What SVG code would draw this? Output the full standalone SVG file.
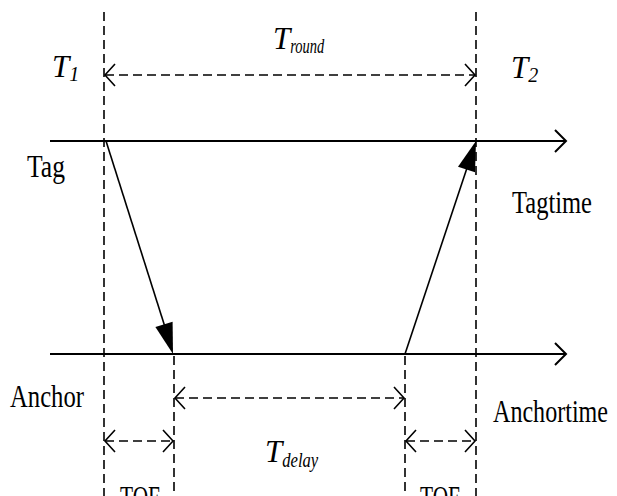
<svg xmlns="http://www.w3.org/2000/svg" width="617" height="496" viewBox="0 0 617 496">
<style>
.solid{stroke:#000;stroke-width:2;fill:none}
.dash{stroke:#000;stroke-width:1.6;fill:none;stroke-dasharray:9 5}
.hd{stroke:#000;stroke-width:1.6;fill:none;stroke-dasharray:9 5}
.head{stroke:#000;stroke-width:1.6;fill:none}
.t{font-family:"Liberation Serif","Times New Roman",serif;font-size:31px;fill:#000}
.i{font-style:italic}
.sub{font-size:20px}
</style>
<rect width="617" height="496" fill="#fff"/>
<g id="guides">
<line class="dash" x1="104" y1="12" x2="104" y2="496"/>
<line class="dash" x1="476" y1="12" x2="476" y2="496"/>
<line class="dash" x1="174" y1="356" x2="174" y2="496"/>
<line class="dash" x1="405" y1="356" x2="405" y2="496"/>
</g>
<g id="tag-axis">
<line class="solid" x1="50" y1="141" x2="565" y2="141"/>
<polyline class="solid" points="555,130 566,141 555,152"/>
</g>
<g id="anchor-axis">
<line class="solid" x1="50" y1="354" x2="565" y2="354"/>
<polyline class="solid" points="555,343 566,354 555,365"/>
</g>
<g id="connectors">
<line class="solid" x1="106" y1="141" x2="165" y2="327" style="stroke-width:1.6"/>
<polygon points="173,354 155.4,327.1 172.6,321.7" fill="#000"/>
<line class="solid" x1="405" y1="354" x2="467" y2="168" style="stroke-width:1.6"/>
<polygon points="476,141 475,172.3 458,166.7" fill="#000"/>
<line class="hd" x1="105" y1="75" x2="475" y2="75"/>
<polyline class="head" points="115,64 105,75 115,86"/>
<polyline class="head" points="465,64 475,75 465,86"/>
<line class="hd" x1="175" y1="398" x2="404" y2="398"/>
<polyline class="head" points="185,387 175,398 185,409"/>
<polyline class="head" points="394,387 404,398 394,409"/>
<line class="hd" x1="105" y1="441" x2="173" y2="441"/>
<polyline class="head" points="115,430 105,441 115,452"/>
<polyline class="head" points="163,430 173,441 163,452"/>
<line class="hd" x1="406" y1="441" x2="475" y2="441"/>
<polyline class="head" points="416,430 406,441 416,452"/>
<polyline class="head" points="465,430 475,441 465,452"/>
</g>
<g id="labels">
<text class="t i" x="273" y="49">T<tspan class="sub" dy="4" textLength="34" lengthAdjust="spacingAndGlyphs">round</tspan></text>
<text class="t i" x="52" y="77">T<tspan class="sub" dy="4">1</tspan></text>
<text class="t i" x="511" y="78">T<tspan class="sub" dy="4">2</tspan></text>
<text class="t" x="27" y="177" textLength="38" lengthAdjust="spacingAndGlyphs">Tag</text>
<text class="t" x="512" y="213" textLength="80" lengthAdjust="spacingAndGlyphs">Tagtime</text>
<text class="t" x="10" y="407" textLength="74" lengthAdjust="spacingAndGlyphs">Anchor</text>
<text class="t" x="493" y="422" textLength="115" lengthAdjust="spacingAndGlyphs">Anchortime</text>
<text class="t i" x="265" y="462">T<tspan class="sub" dy="5" textLength="36" lengthAdjust="spacingAndGlyphs">delay</tspan></text>
<text class="t" x="120" y="508" textLength="40" lengthAdjust="spacingAndGlyphs">TOF</text>
<text class="t" x="420" y="508" textLength="40" lengthAdjust="spacingAndGlyphs">TOF</text>
</g>
</svg>
